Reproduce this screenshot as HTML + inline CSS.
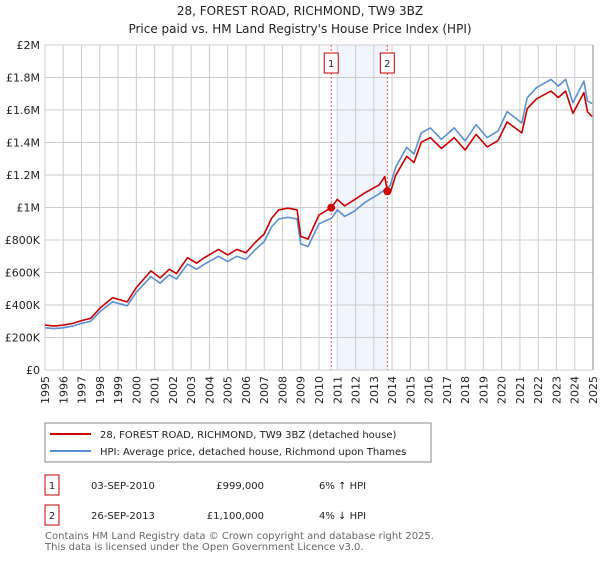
<!DOCTYPE html>
<html><head><meta charset="utf-8"><style>
body{margin:0;background:#fff;font-family:"DejaVu Sans","Liberation Sans",sans-serif;}
svg text{font-family:"DejaVu Sans","Liberation Sans",sans-serif;}
</style></head><body>
<svg id="c" width="600" height="560" xmlns="http://www.w3.org/2000/svg">
<text x="300" y="15" text-anchor="middle" font-size="12" fill="#222">28, FOREST ROAD, RICHMOND, TW9 3BZ</text>
<text x="300" y="33" text-anchor="middle" font-size="12" fill="#222">Price paid vs. HM Land Registry's House Price Index (HPI)</text>
<g id="grid"></g><g id="plot"></g><g id="axes"></g>
<rect x="45" y="423" width="386" height="39" fill="#fff" stroke="#888"/>
<line x1="50" y1="434" x2="91" y2="434" stroke="#cc0000" stroke-width="2"/>
<text x="100" y="438" font-size="10" fill="#222">28, FOREST ROAD, RICHMOND, TW9 3BZ (detached house)</text>
<line x1="50" y1="451" x2="91" y2="451" stroke="#5b8fd4" stroke-width="2"/>
<text x="100" y="455" font-size="10" fill="#222">HPI: Average price, detached house, Richmond upon Thames</text>
<rect x="45" y="475" width="14" height="20" fill="#fff" stroke="#cc0000"/>
<text x="52" y="489" text-anchor="middle" font-size="10" fill="#222">1</text>
<text x="91" y="489" font-size="10" fill="#222">03-SEP-2010</text>
<text x="264" y="489" text-anchor="end" font-size="10" fill="#222">£999,000</text>
<text x="319" y="489" font-size="10" fill="#222">6% ↑ HPI</text>
<rect x="45" y="505" width="14" height="20" fill="#fff" stroke="#cc0000"/>
<text x="52" y="519" text-anchor="middle" font-size="10" fill="#222">2</text>
<text x="91" y="519" font-size="10" fill="#222">26-SEP-2013</text>
<text x="264" y="519" text-anchor="end" font-size="10" fill="#222">£1,100,000</text>
<text x="319" y="519" font-size="10" fill="#222">4% ↓ HPI</text>
<text x="45" y="539" font-size="10" fill="#666">Contains HM Land Registry data © Crown copyright and database right 2025.</text>
<text x="45" y="550" font-size="10" fill="#666">This data is licensed under the Open Government Licence v3.0.</text>
</svg>
<script>
const yTicks=[0,200000,400000,600000,800000,1000000,1200000,1400000,1600000,1800000,2000000];
const yTickLabels=["£0","£200K","£400K","£600K","£800K","£1M","£1.2M","£1.4M","£1.6M","£1.8M","£2M"];
const years=[1995,1996,1997,1998,1999,2000,2001,2002,2003,2004,2005,2006,2007,2008,2009,2010,2011,2012,2013,2014,2015,2016,2017,2018,2019,2020,2021,2022,2023,2024,2025];
const hpiT=[1995.0,1995.5,1996.0,1996.5,1997.0,1997.5,1998.0,1998.7,1999.5,2000.0,2000.8,2001.3,2001.8,2002.2,2002.8,2003.3,2003.7,2004.5,2005.0,2005.5,2006.0,2006.5,2007.0,2007.4,2007.8,2008.3,2008.8,2009.0,2009.4,2010.0,2010.7,2011.0,2011.4,2011.9,2012.5,2013.3,2013.9,2014.2,2014.8,2015.2,2015.6,2016.1,2016.7,2017.4,2018.0,2018.6,2019.2,2019.8,2020.3,2021.1,2021.4,2021.9,2022.7,2023.1,2023.5,2023.9,2024.5,2024.7,2024.95];
const hpiV=[260000,255000,260000,270000,287000,300000,359000,420000,395000,478000,575000,535000,585000,560000,652000,620000,650000,700000,668000,700000,680000,740000,790000,880000,930000,940000,930000,776000,760000,900000,935000,985000,945000,975000,1030000,1085000,1135000,1248000,1370000,1330000,1460000,1490000,1420000,1490000,1410000,1510000,1430000,1470000,1590000,1520000,1675000,1737000,1788000,1747000,1788000,1645000,1778000,1655000,1640000];
const priceT=[1995.0,1995.5,1996.0,1996.5,1997.0,1997.5,1998.0,1998.7,1999.5,2000.0,2000.8,2001.3,2001.8,2002.2,2002.8,2003.3,2003.7,2004.5,2005.0,2005.5,2006.0,2006.5,2007.0,2007.4,2007.8,2008.3,2008.8,2009.0,2009.4,2010.0,2010.67,2011.0,2011.4,2011.9,2012.5,2013.3,2013.6,2013.74,2013.9,2014.2,2014.8,2015.2,2015.6,2016.1,2016.7,2017.4,2018.0,2018.6,2019.2,2019.8,2020.3,2021.1,2021.4,2021.9,2022.7,2023.1,2023.5,2023.9,2024.5,2024.7,2024.95];
const priceV=[276000,270000,276000,286000,304000,318000,380000,445000,419000,507000,610000,567000,620000,594000,691000,657000,689000,742000,708000,742000,721000,784000,837000,933000,986000,996000,986000,822000,806000,954000,999000,1050000,1010000,1045000,1090000,1140000,1190000,1100000,1090000,1198000,1315000,1277000,1402000,1430000,1363000,1430000,1354000,1450000,1373000,1411000,1526000,1459000,1608000,1668000,1716000,1677000,1716000,1579000,1707000,1589000,1560000];
const saleT=[2010.67,2013.74];
const saleV=[999000,1100000];
const saleLabels=["1","2"];

const NS="http://www.w3.org/2000/svg";
const L=45,R=593,T=45,B=370,x0=1995,x1=2025,vmax=2000000;
const xs=t=>L+(t-x0)/(x1-x0)*(R-L);
const ys=v=>B-v/vmax*(B-T);
function mk(tag,at,parent){const e=document.createElementNS(NS,tag);for(const k in at)e.setAttribute(k,at[k]);document.getElementById(parent).appendChild(e);return e;}
// shade
const sh=mk('rect',{x:xs(2011.0),y:T,width:xs(saleT[1])-xs(2011.0),height:B-T,fill:'#eef3fd',opacity:0.8},'grid');


yTicks.forEach((v,i)=>{
 const g=mk('line',{x1:L,x2:R,y1:ys(v),y2:ys(v),stroke:'#cccccc','stroke-width':1},'grid');
 
 
 const t=mk('text',{x:40,y:ys(v)+4,'text-anchor':'end','font-size':11,fill:'#222'},'axes');
 t.textContent=yTickLabels[i];
 
 
});
years.forEach(y=>{
 const g=mk('line',{x1:xs(y),x2:xs(y),y1:T,y2:B,stroke:'#cccccc','stroke-width':1},'grid');
 
 
 const t=mk('text',{x:0,y:0,'text-anchor':'end','font-size':11,fill:'#222',transform:`translate(${xs(y)+4},${B+6}) rotate(-90)`},'axes');
 t.textContent=y;
 
 
});
const ax=mk('line',{x1:R,x2:R,y1:T,y2:B,stroke:'#888','stroke-width':1},'axes');


saleT.forEach((t,i)=>{
 const l=mk('line',{x1:xs(t),x2:xs(t),y1:T,y2:B,stroke:'#ee5555','stroke-width':1,'stroke-dasharray':'2,2'},'plot');
 
 
 const b=mk('rect',{x:xs(t)-7,y:T+8,width:14,height:20,fill:'#fff',stroke:'#cc0000'},'plot');
 
 
 const tx=mk('text',{x:xs(t),y:T+22,'text-anchor':'middle','font-size':10,fill:'#222'},'plot');
 tx.textContent=saleLabels[i];
});
function line(T_,V,col,name){
 const p=mk('polyline',{points:T_.map((t,i)=>xs(t).toFixed(1)+','+ys(V[i]).toFixed(1)).join(' '),fill:'none',stroke:col,'stroke-width':1.6,'stroke-linejoin':'round'},'plot');
 
 
}
line(hpiT,hpiV,'#5b8fd4','hpi-line');
line(priceT,priceV,'#cc0000','price-line');
saleT.forEach((t,i)=>{
 const c=mk('circle',{cx:xs(t),cy:ys(saleV[i]),r:4,fill:'#cc0000'},'plot');
 
 
});
</script>
</body></html>
